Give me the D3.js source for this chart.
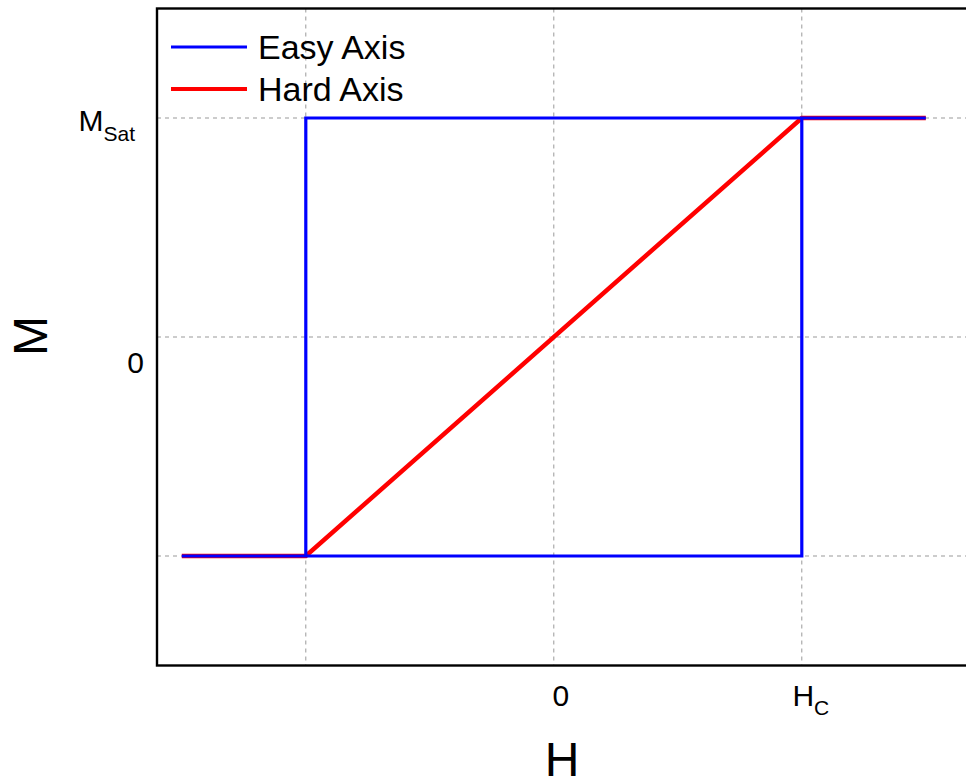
<!DOCTYPE html>
<html>
<head>
<meta charset="utf-8">
<script src="https://cdn.jsdelivr.net/npm/d3@7"></script>
<style>
  body { margin: 0; background: #fff; }
  svg text { font-family: "Liberation Sans", Arial, sans-serif; fill: #000; }
</style>
</head>
<body>
<div id="chart"></div>
<script>
// data: H in units of Hc, M in units of Msat
var easyAxis = [[-1.5, -1], [1, -1], [1, 1], [1.5, 1], [-1, 1], [-1, -1]];
var hardAxis = [[-1.5, -1], [-1, -1], [1, 1], [1.5, 1]];
var xGrid = [-1, 0, 1];
var yGrid = [-1, 0, 1];
var xTicks = [{v: 0, main: "0", sub: ""}, {v: 1, main: "H", sub: "C"}];
var yTicks = [{v: 1, main: "M", sub: "Sat"}, {v: 0, main: "0", sub: ""}];
var legendItems = [{name: "Easy Axis", color: "#0000ff", w: 3}, {name: "Hard Axis", color: "#ff0000", w: 4}];

// 0.size
var svgW = 966, svgH = 780;
var svg = d3.select("#chart").append("svg").attr("width", svgW).attr("height", svgH);

var x = d3.scaleLinear().domain([-1.6, 1.8]).range([157, 157 + 3.4 * 248]);
var y = d3.scaleLinear().domain([-1.5, 1.5]).range([665.5, 8.5]);

// 1.grid
svg.selectAll(".vgrid").data(xGrid).enter().append("line")
    .attr("class", "vgrid")
    .attr("x1", function(d){ return x(d); }).attr("x2", function(d){ return x(d); })
    .attr("y1", y(1.5)).attr("y2", y(-1.5))
    .attr("stroke", "#999").attr("stroke-width", 1).attr("stroke-dasharray", "4,4");

svg.selectAll(".hgrid").data(yGrid).enter().append("line")
    .attr("class", "hgrid")
    .attr("x1", x(-1.6)).attr("x2", x(1.8))
    .attr("y1", function(d){ return y(d); }).attr("y2", function(d){ return y(d); })
    .attr("stroke", "#999").attr("stroke-width", 1).attr("stroke-dasharray", "4,4");

// 2.curves
var line = d3.line().x(function(d){ return x(d[0]); }).y(function(d){ return y(d[1]); });

svg.append("path").datum(hardAxis)
    .attr("d", line).attr("fill", "none")
    .attr("stroke", "#ff0000").attr("stroke-width", 4.5);

svg.append("path").datum(easyAxis)
    .attr("d", line).attr("fill", "none")
    .attr("stroke", "#0000ff").attr("stroke-width", 3.2)
    .attr("stroke-linejoin", "miter");

// 3.frame
svg.append("rect")
    .attr("x", x(-1.6)).attr("y", y(1.5))
    .attr("width", x(1.8) - x(-1.6)).attr("height", y(-1.5) - y(1.5))
    .attr("fill", "none").attr("stroke", "#000").attr("stroke-width", 2.4);

// 4.tick labels
var xLab = svg.selectAll(".xlab").data(xTicks).enter().append("text")
    .attr("class", "xlab")
    .attr("x", function(d){ return d.sub ? x(d.v) + 9 : x(d.v) + 7; })
    .attr("y", 706)
    .attr("text-anchor", "middle")
    .style("font-size", "30px");
xLab.append("tspan").text(function(d){ return d.main; });
xLab.append("tspan").attr("dy", 9).style("font-size", "21px").text(function(d){ return d.sub; });

var yLab = svg.selectAll(".ylab").data(yTicks).enter().append("text")
    .attr("class", "ylab")
    .attr("x", function(d){ return d.sub ? 135 : 144; })
    .attr("y", function(d){ return d.sub ? y(d.v) + 13 : y(d.v) + 36; })
    .attr("text-anchor", "end")
    .style("font-size", "30px");
yLab.append("tspan").text(function(d){ return d.main; });
yLab.append("tspan").attr("dy", 10).style("font-size", "21px").text(function(d){ return d.sub; });

// 5.axis titles
svg.append("text").text("H")
    .attr("x", 562).attr("y", 776)
    .attr("text-anchor", "middle")
    .style("font-size", "48px");

svg.append("text").text("M")
    .attr("transform", "translate(47,336) rotate(-90)")
    .attr("text-anchor", "middle")
    .style("font-size", "48px");

// 6.legend
var leg = svg.selectAll(".legend").data(legendItems).enter().append("g")
    .attr("class", "legend")
    .attr("transform", function(d, i){ return "translate(171," + (47 + i * 42) + ")"; });
leg.append("line")
    .attr("x1", 0).attr("x2", 76).attr("y1", 0).attr("y2", 0)
    .attr("stroke", function(d){ return d.color; })
    .attr("stroke-width", function(d){ return d.w; });
leg.append("text")
    .attr("x", 87).attr("y", 12)
    .style("font-size", "34px")
    .text(function(d){ return d.name; });
</script>
</body>
</html>
